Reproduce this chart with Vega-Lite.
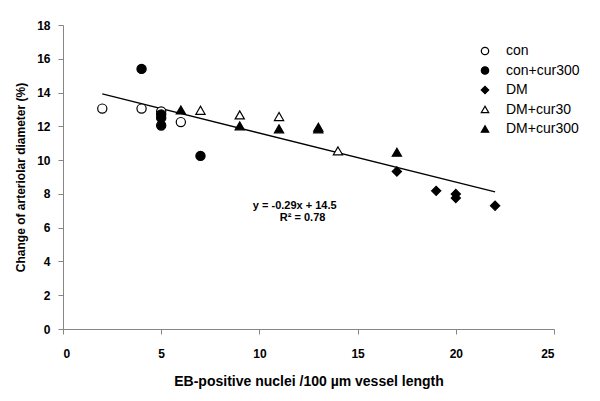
{
  "$schema": "https://vega.github.io/schema/vega-lite/v6.json",
  "width": 491,
  "height": 304,
  "autosize": {"type": "none"},
  "padding": {"left": 63, "top": 25, "right": 46, "bottom": 72},
  "background": "white",
  "config": {
    "view": {"stroke": null},
    "font": "Liberation Sans",
    "axis": {
      "grid": false,
      "domainColor": "#868686",
      "tickColor": "#868686",
      "labelFont": "Liberation Sans",
      "labelFontWeight": "bold",
      "labelFontSize": 12,
      "labelColor": "black",
      "labelOverlap": false,
      "titleFont": "Liberation Sans",
      "titleFontWeight": "bold",
      "titleFontSize": 12,
      "titleColor": "black",
      "tickSize": 5
    },
    "axisX": {"titleFontSize": 14},
    "legend": {
      "labelFont": "Liberation Sans",
      "labelFontSize": 14,
      "labelColor": "black"
    }
  },
  "datasets": {
    "pts": [
      {"group": "con", "x": 2, "y": 13.05},
      {"group": "con", "x": 4, "y": 13.05},
      {"group": "con", "x": 5, "y": 12.88},
      {"group": "con", "x": 6, "y": 12.25},
      {"group": "con+cur300", "x": 4, "y": 15.4},
      {"group": "con+cur300", "x": 5, "y": 12.7},
      {"group": "con+cur300", "x": 5, "y": 12.5},
      {"group": "con+cur300", "x": 5, "y": 12.05},
      {"group": "con+cur300", "x": 7, "y": 10.25},
      {"group": "DM", "x": 17, "y": 9.33},
      {"group": "DM", "x": 19, "y": 8.18},
      {"group": "DM", "x": 20, "y": 7.99},
      {"group": "DM", "x": 20, "y": 7.75},
      {"group": "DM", "x": 22, "y": 7.3},
      {"group": "DM+cur30", "x": 7, "y": 12.95},
      {"group": "DM+cur30", "x": 9, "y": 12.68},
      {"group": "DM+cur30", "x": 11, "y": 12.58},
      {"group": "DM+cur30", "x": 14, "y": 10.55},
      {"group": "DM+cur300", "x": 6, "y": 12.97},
      {"group": "DM+cur300", "x": 9, "y": 12.03},
      {"group": "DM+cur300", "x": 11, "y": 11.85},
      {"group": "DM+cur300", "x": 13, "y": 11.85},
      {"group": "DM+cur300", "x": 13, "y": 11.95},
      {"group": "DM+cur300", "x": 17, "y": 10.47}
    ],
    "fit": [
      {"x": 2, "y": 13.92},
      {"x": 22, "y": 8.12}
    ]
  },
  "layer": [
    {
      "data": {"name": "fit"},
      "mark": {"type": "line", "color": "black", "strokeWidth": 1.3},
      "encoding": {
        "x": {
          "field": "x", "type": "quantitative",
          "scale": {"domain": [0, 25], "nice": false, "zero": true},
          "axis": {"values": [0, 5, 10, 15, 20, 25], "labelPadding": 14, "titlePadding": 15},
          "title": "EB-positive nuclei /100 µm vessel length"
        },
        "y": {
          "field": "y", "type": "quantitative",
          "scale": {"domain": [0, 18], "nice": false, "zero": true},
          "axis": {"values": [0, 2, 4, 6, 8, 10, 12, 14, 16, 18], "labelPadding": 8, "titlePadding": 9},
          "title": "Change of arteriolar diameter (%)"
        }
      }
    },
    {
      "data": {"name": "pts"},
      "mark": {"type": "point", "filled": true, "strokeWidth": 1.2, "size": 85, "opacity": 1},
      "encoding": {
        "x": {
          "field": "x", "type": "quantitative",
          "scale": {"domain": [0, 25], "nice": false, "zero": true},
          "axis": {"values": [0, 5, 10, 15, 20, 25], "labelPadding": 14, "titlePadding": 15},
          "title": "EB-positive nuclei /100 µm vessel length"
        },
        "y": {
          "field": "y", "type": "quantitative",
          "scale": {"domain": [0, 18], "nice": false, "zero": true},
          "axis": {"values": [0, 2, 4, 6, 8, 10, 12, 14, 16, 18], "labelPadding": 8, "titlePadding": 9},
          "title": "Change of arteriolar diameter (%)"
        },
        "shape": {
          "field": "group", "type": "nominal",
          "scale": {"domain": ["con", "con+cur300", "DM", "DM+cur30", "DM+cur300"], "range": ["circle", "circle", "diamond", "triangle-up", "triangle-up"]},
          "legend": {"title": null, "orient": "none", "legendX": 415, "legendY": 19, "symbolSize": 55, "labelOffset": 14, "rowPadding": 5.5, "symbolStrokeWidth": 1.2}
        },
        "fill": {
          "field": "group", "type": "nominal",
          "scale": {"domain": ["con", "con+cur300", "DM", "DM+cur30", "DM+cur300"], "range": ["white", "black", "black", "white", "black"]},
          "legend": {"title": null, "orient": "none", "legendX": 415, "legendY": 19, "symbolSize": 55, "labelOffset": 14, "rowPadding": 5.5, "symbolStrokeWidth": 1.2}
        },
        "stroke": {
          "field": "group", "type": "nominal",
          "scale": {"domain": ["con", "con+cur300", "DM", "DM+cur30", "DM+cur300"], "range": ["black", "black", "black", "black", "black"]},
          "legend": {"title": null, "orient": "none", "legendX": 415, "legendY": 19, "symbolSize": 55, "labelOffset": 14, "rowPadding": 5.5, "symbolStrokeWidth": 1.2}
        }
      }
    },
    {
      "data": {"values": [{}]},
      "mark": {"type": "text", "font": "Liberation Sans", "fontWeight": "bold", "fontSize": 11, "color": "black", "align": "center", "baseline": "middle"},
      "encoding": {
        "x": {"datum": 11.8, "type": "quantitative",
          "scale": {"domain": [0, 25], "nice": false, "zero": true},
          "axis": {"values": [0, 5, 10, 15, 20, 25], "labelPadding": 14, "titlePadding": 15},
          "title": "EB-positive nuclei /100 µm vessel length"},
        "y": {"datum": 7.3, "type": "quantitative",
          "scale": {"domain": [0, 18], "nice": false, "zero": true},
          "axis": {"values": [0, 2, 4, 6, 8, 10, 12, 14, 16, 18], "labelPadding": 8, "titlePadding": 9},
          "title": "Change of arteriolar diameter (%)"},
        "text": {"value": "y = -0.29x + 14.5"}
      }
    },
    {
      "data": {"values": [{}]},
      "mark": {"type": "text", "font": "Liberation Sans", "fontWeight": "bold", "fontSize": 11, "color": "black", "align": "center", "baseline": "middle"},
      "encoding": {
        "x": {"datum": 12.2, "type": "quantitative",
          "scale": {"domain": [0, 25], "nice": false, "zero": true},
          "axis": {"values": [0, 5, 10, 15, 20, 25], "labelPadding": 14, "titlePadding": 15},
          "title": "EB-positive nuclei /100 µm vessel length"},
        "y": {"datum": 6.6, "type": "quantitative",
          "scale": {"domain": [0, 18], "nice": false, "zero": true},
          "axis": {"values": [0, 2, 4, 6, 8, 10, 12, 14, 16, 18], "labelPadding": 8, "titlePadding": 9},
          "title": "Change of arteriolar diameter (%)"},
        "text": {"value": "R² = 0.78"}
      }
    }
  ]
}
